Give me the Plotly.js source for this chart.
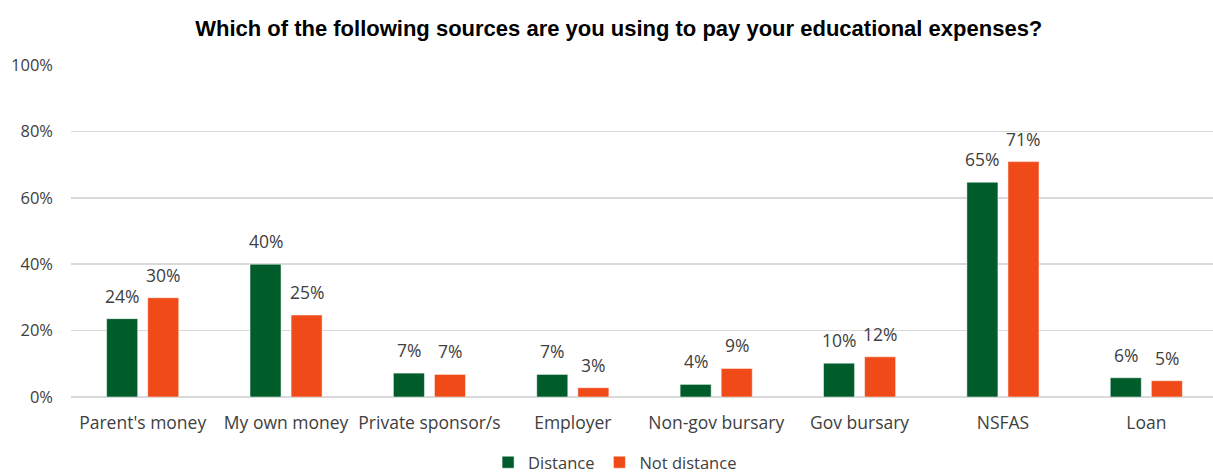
<!DOCTYPE html>
<html>
<head>
<meta charset="utf-8">
<script src="https://cdn.plot.ly/plotly-3.0.1.min.js"></script>
<style>
html,body{margin:0;padding:0;overflow:hidden;background:#fff;}
#chart{width:1218px;height:480px;}
</style>
</head>
<body>
<div id="chart"></div>
<script>
const categories = ["Parent's money","My own money","Private sponsor/s","Employer","Non-gov bursary","Gov bursary","NSFAS","Loan"];
const distance = [23.6, 40.0, 7.2, 6.8, 3.8, 10.2, 64.7, 5.8];
const notDistance = [29.9, 24.7, 6.8, 2.8, 8.6, 12.1, 70.9, 4.9];
const seriesNames = ["Distance","Not distance"];
const yTickVals = [0,20,40,60,80,100];
const yTickText = ["0%","20%","40%","60%","80%","100%"];

const labelFont = {family:"Open Sans, sans-serif", size:17.5, color:"#404040"};

const traces = [
  {type:"bar", name:seriesNames[0], x:categories, y:distance,
   marker:{color:"#005C2B", line:{color:"rgba(255,255,255,0.5)", width:1}},
   hoverinfo:"skip"},
  {type:"bar", name:seriesNames[1], x:categories, y:notDistance,
   marker:{color:"#F04A19", line:{color:"rgba(255,255,255,0.5)", width:1}},
   hoverinfo:"skip"}
];

// data labels as annotations placed through the axes
const annotations = [];
[distance, notDistance].forEach((series, s) => {
  series.forEach((v, i) => {
    annotations.push({
      x: categories[i], y: v, xref:"x", yref:"y",
      text: Math.round(v) + "%", showarrow:false,
      xanchor:"center", yanchor:"bottom",
      xshift: s === 0 ? -20.5 : 20.5, yshift: 9,
      font: labelFont
    });
  });
});

const layout = {
  width:1218, height:480,
  margin:{l:71, r:0, t:65, b:82.5},
  paper_bgcolor:"#fff", plot_bgcolor:"#fff",
  font:{family:"Open Sans, sans-serif", size:16, color:"#404040"},
  title:{text:"<b>Which of the following sources are you using to pay your educational expenses?</b>",
         font:{family:"Liberation Sans, Arial, sans-serif", size:22, color:"#000"},
         xref:"container", x:0.508, xanchor:"center", yref:"container", y:0.941, yanchor:"middle"},
  barmode:"group", bargap:0.427, bargroupgap:0.244,
  xaxis:{type:"category", showgrid:false, showline:false, zeroline:false, ticks:"",
         tickfont:labelFont, ticklabelstandoff:13, automargin:false},
  yaxis:{range:[0,100], tickvals:yTickVals, ticktext:yTickText, showgrid:true,
         gridcolor:"#d9d9d9", gridwidth:1.5, zeroline:true, zerolinecolor:"#d9d9d9", zerolinewidth:1.5,
         showline:false, ticks:"", tickfont:{family:"Open Sans, sans-serif", size:16.5, color:"#404040"},
         ticklabelstandoff:17, automargin:false},
  legend:{orientation:"h", x:0.505, xanchor:"center", xref:"container", y:0, yref:"container", yanchor:"bottom",
          font:{family:"Open Sans, sans-serif", size:16.5, color:"#404040"}, traceorder:"normal"},
  annotations: annotations,
  showlegend:true
};

Plotly.newPlot("chart", traces, layout, {displayModeBar:false, staticPlot:true});
</script>
</body>
</html>
